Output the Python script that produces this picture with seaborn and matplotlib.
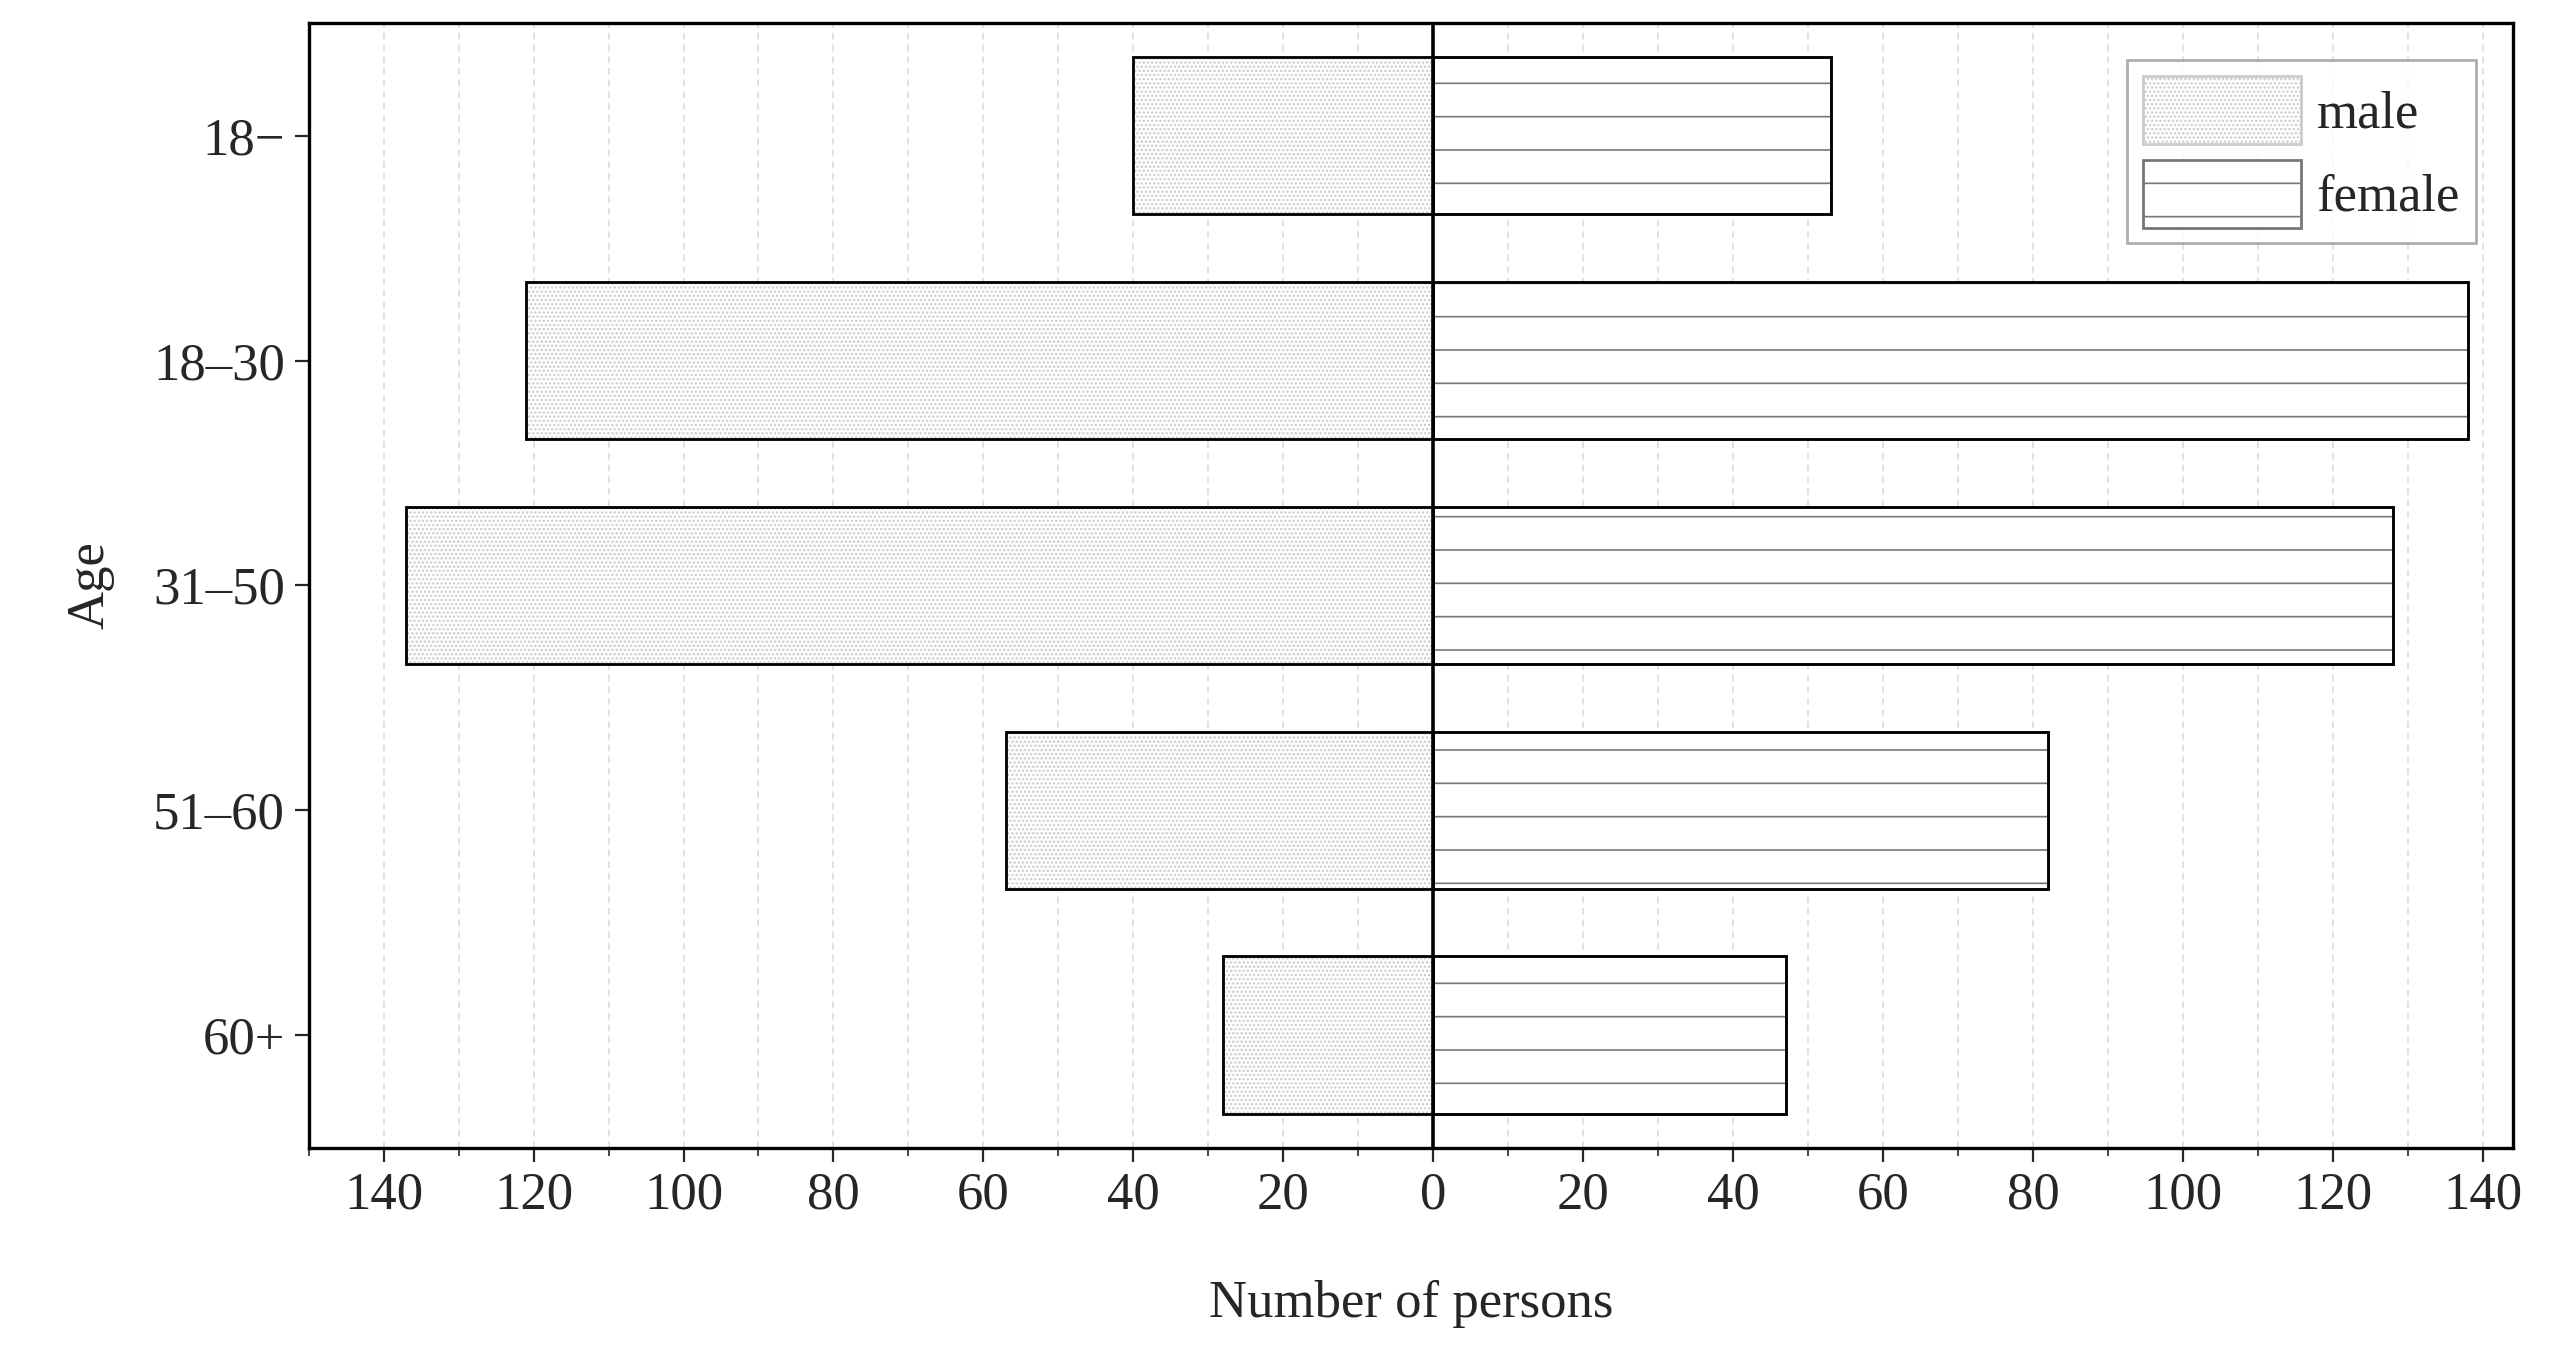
import numpy as np
import pandas as pd
import matplotlib.pyplot as plt
import seaborn as sns
from matplotlib.patches import Patch

ages = ["18−", "18–30", "31–50", "51–60", "60+"]
male = [40, 121, 137, 57, 28]
female = [53, 138, 128, 82, 47]

sns.set_style("white")
plt.rcParams["font.family"] = ["Liberation Serif", "DejaVu Serif"]
plt.rcParams["hatch.linewidth"] = 0.6

df_m = pd.DataFrame({"age": ages, "n": [-v for v in male]})
df_f = pd.DataFrame({"age": ages, "n": female})

fig = plt.figure(figsize=(12.86, 6.855), dpi=200)
ax = fig.add_axes([0.12, 0.163, 0.857, 0.82])

sns.barplot(data=df_m, x="n", y="age", orient="h", color="white", width=0.7,
            edgecolor="black", linewidth=1.0, ax=ax)
sns.barplot(data=df_f, x="n", y="age", orient="h", color="white", width=0.7,
            edgecolor="black", linewidth=1.0, ax=ax)
n = len(ages)
for p in ax.patches[:n]:
    p.set_hatch("........")
    p.set_edgecolor("#cccccc")
for p in ax.patches[n:]:
    p.set_hatch("-")
    p.set_edgecolor("#777777")
for p in list(ax.patches):
    ax.add_patch(plt.Rectangle(p.get_xy(), p.get_width(), p.get_height(),
                               fill=False, edgecolor="black", linewidth=1.0, zorder=3))

ax.axvline(0, color="black", linewidth=1.3, zorder=4)
ax.set_xlim(-150, 144)
ax.set_xticks(np.arange(-140, 141, 20))
ax.set_xticklabels([str(abs(v)) for v in range(-140, 141, 20)])
ax.set_xticks(np.arange(-150, 141, 10), minor=True)
for v in np.arange(-140, 141, 10):
    ax.axvline(v, color="#dddddd", linewidth=0.6, linestyle=(0, (4, 3)), zorder=0)
ax.tick_params(axis="both", which="major", labelsize=19, direction="out", length=5,
               bottom=True, left=True)
ax.tick_params(axis="x", which="minor", length=3, bottom=True)
ax.set_xlabel("Number of persons", fontsize=19, labelpad=22)
ax.set_ylabel("Age", fontsize=19, labelpad=14)
for s in ax.spines.values():
    s.set_color("black")
    s.set_linewidth(1.2)

handles = [Patch(facecolor="white", edgecolor="#cccccc", hatch="........"),
           Patch(facecolor="white", edgecolor="#777777", hatch="-")]
leg = ax.legend(handles, ["male", "female"], loc="upper right", fontsize=19,
                fancybox=False, edgecolor="#999999", handlelength=3.0,
                handleheight=1.6, handletextpad=0.3, borderaxespad=0.7,
                borderpad=0.3, labelspacing=0.3)
leg.get_frame().set_linewidth(1.0)

fig.savefig("out.png", dpi=200)
